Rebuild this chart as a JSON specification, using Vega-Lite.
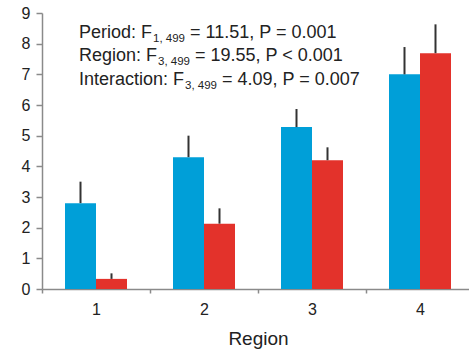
{
  "$schema": "https://vega.github.io/schema/vega-lite/v6.json",
  "autosize": "none",
  "width": 432,
  "height": 276,
  "padding": {"left": 42, "top": 13, "right": 0, "bottom": 62},
  "background": "white",
  "config": {
    "view": {"stroke": null},
    "font": "Liberation Sans",
    "axis": {
      "labelFont": "Liberation Sans",
      "titleFont": "Liberation Sans",
      "labelColor": "#222222",
      "titleColor": "#222222",
      "domainColor": "#8a8a8a",
      "tickColor": "#8a8a8a",
      "domainWidth": 1.5,
      "tickWidth": 1.5,
      "grid": false
    },
    "axisY": {"labelOverlap": false, "tickCount": 10, "labelFontSize": 16, "tickSize": 6, "labelPadding": 6, "title": null}
  },
  "data": {
    "values": [
      {"region": "1", "period": "A", "mean": 2.8, "upper": 3.5},
      {"region": "1", "period": "B", "mean": 0.33, "upper": 0.51},
      {"region": "2", "period": "A", "mean": 4.3, "upper": 5.0},
      {"region": "2", "period": "B", "mean": 2.13, "upper": 2.63},
      {"region": "3", "period": "A", "mean": 5.28, "upper": 5.87},
      {"region": "3", "period": "B", "mean": 4.2, "upper": 4.62},
      {"region": "4", "period": "A", "mean": 7.0, "upper": 7.89},
      {"region": "4", "period": "B", "mean": 7.69, "upper": 8.63}
    ]
  },
  "encoding": {
    "x": {
      "field": "region",
      "type": "nominal",
      "scale": {"paddingInner": 0, "paddingOuter": 0},
      "axis": {
        "title": "Region",
        "labelAngle": 0,
        "labelFontSize": 16,
        "titleFontSize": 19,
        "titleFontWeight": "normal",
        "titlePadding": 12,
        "tickBand": "extent",
        "tickSize": 4,
        "labelPadding": 8
      }
    },
    "xOffset": {
      "field": "period",
      "type": "nominal",
      "scale": {"paddingInner": 0, "paddingOuter": 0.742}
    }
  },
  "layer": [
    {
      "mark": {"type": "bar"},
      "encoding": {
        "y": {
          "field": "mean",
          "type": "quantitative",
          "scale": {"domain": [0, 9], "nice": false},
          "axis": {
            "title": null,
            "values": [0, 1, 2, 3, 4, 5, 6, 7, 8, 9],
            "labelOverlap": false
          }
        },
        "color": {
          "field": "period",
          "type": "nominal",
          "scale": {"domain": ["A", "B"], "range": ["#009fd8", "#e3322b"]},
          "legend": null
        }
      }
    },
    {
      "mark": {"type": "rule", "color": "#333333", "strokeWidth": 2},
      "encoding": {
        "y": {"field": "mean", "type": "quantitative"},
        "y2": {"field": "upper"}
      }
    },
    {
      "data": {"values": [{"label": "Period: F"}]},
      "mark": {"type": "text", "align": "left", "baseline": "alphabetic", "fontSize": 18, "color": "#222222", "dx": -17},
      "encoding": {"x": {"datum": "1"}, "xOffset": null, "y": {"datum": 8.18}, "text": {"field": "label"}}
    },
    {
      "data": {"values": [{"label": "1, 499"}]},
      "mark": {"type": "text", "align": "left", "baseline": "alphabetic", "fontSize": 11.5, "color": "#222222", "dx": 57, "dy": 4},
      "encoding": {"x": {"datum": "1"}, "xOffset": null, "y": {"datum": 8.18}, "text": {"field": "label"}}
    },
    {
      "data": {"values": [{"label": "= 11.51, P = 0.001"}]},
      "mark": {"type": "text", "align": "left", "baseline": "alphabetic", "fontSize": 18, "color": "#222222", "dx": 94},
      "encoding": {"x": {"datum": "1"}, "xOffset": null, "y": {"datum": 8.18}, "text": {"field": "label"}}
    },
    {
      "data": {"values": [{"label": "Region: F"}]},
      "mark": {"type": "text", "align": "left", "baseline": "alphabetic", "fontSize": 18, "color": "#222222", "dx": -17},
      "encoding": {"x": {"datum": "1"}, "xOffset": null, "y": {"datum": 7.42}, "text": {"field": "label"}}
    },
    {
      "data": {"values": [{"label": "3, 499"}]},
      "mark": {"type": "text", "align": "left", "baseline": "alphabetic", "fontSize": 11.5, "color": "#222222", "dx": 62, "dy": 4},
      "encoding": {"x": {"datum": "1"}, "xOffset": null, "y": {"datum": 7.42}, "text": {"field": "label"}}
    },
    {
      "data": {"values": [{"label": "= 19.55, P < 0.001"}]},
      "mark": {"type": "text", "align": "left", "baseline": "alphabetic", "fontSize": 18, "color": "#222222", "dx": 99},
      "encoding": {"x": {"datum": "1"}, "xOffset": null, "y": {"datum": 7.42}, "text": {"field": "label"}}
    },
    {
      "data": {"values": [{"label": "Interaction: F"}]},
      "mark": {"type": "text", "align": "left", "baseline": "alphabetic", "fontSize": 18, "color": "#222222", "dx": -17},
      "encoding": {"x": {"datum": "1"}, "xOffset": null, "y": {"datum": 6.65}, "text": {"field": "label"}}
    },
    {
      "data": {"values": [{"label": "3, 499"}]},
      "mark": {"type": "text", "align": "left", "baseline": "alphabetic", "fontSize": 11.5, "color": "#222222", "dx": 89, "dy": 4},
      "encoding": {"x": {"datum": "1"}, "xOffset": null, "y": {"datum": 6.65}, "text": {"field": "label"}}
    },
    {
      "data": {"values": [{"label": "= 4.09, P = 0.007"}]},
      "mark": {"type": "text", "align": "left", "baseline": "alphabetic", "fontSize": 18, "color": "#222222", "dx": 126},
      "encoding": {"x": {"datum": "1"}, "xOffset": null, "y": {"datum": 6.65}, "text": {"field": "label"}}
    }
  ]
}
